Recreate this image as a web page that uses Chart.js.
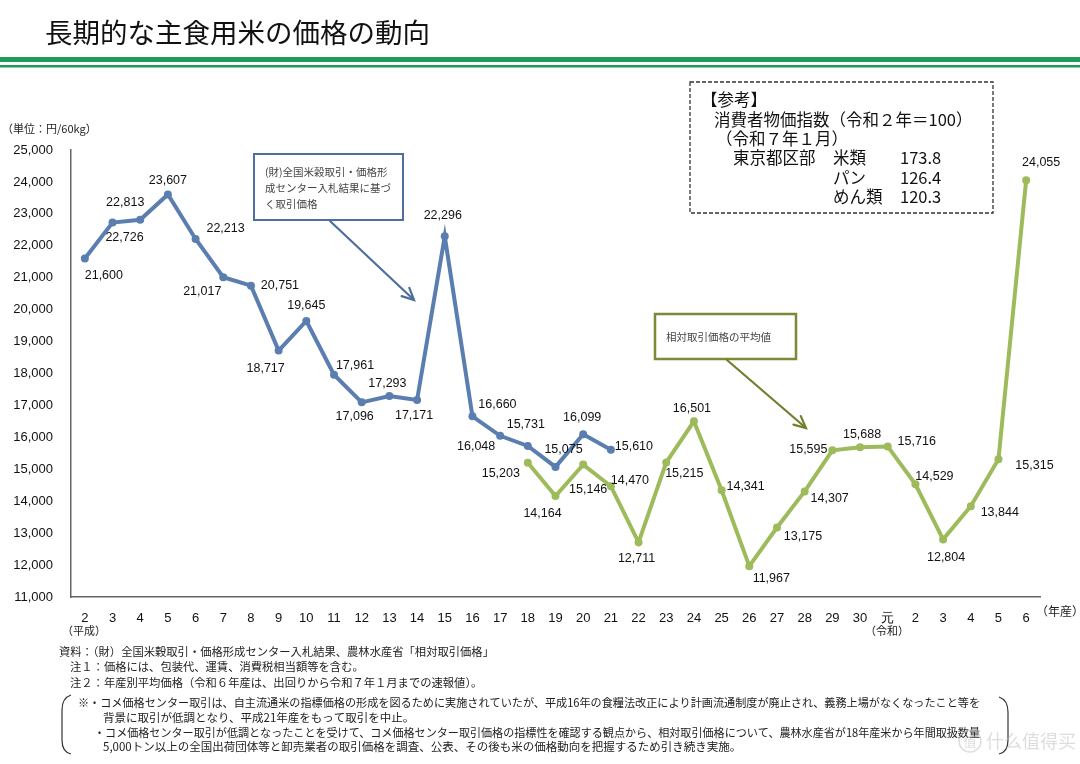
<!DOCTYPE html>
<html><head><meta charset="utf-8">
<script src="https://cdn.jsdelivr.net/npm/chart.js@4.4.1/dist/chart.umd.min.js"></script>
<style>html,body{margin:0;padding:0;background:#fff;}#wrap{width:1080px;height:764px;position:relative;}</style>
</head><body><div id="wrap"><canvas id="c" width="1080" height="764"></canvas></div>
<script>
// ---- data ----
const categories = ['2','3','4','5','6','7','8','9','10','11','12','13','14','15','16','17','18','19','20','21','22','23','24','25','26','27','28','29','30','元','2','3','4','5','6'];
// センター入札価格 (平成2〜21年産)
const centerPrices = [21600,22726,22813,23607,22213,21017,20751,18717,19645,17961,17096,17293,17171,22296,16660,16048,15731,15075,16099,15610];
// 相対取引価格の平均値 (平成18年産〜令和6年産)
const relativePrices = [15203,14164,15146,14470,12711,15215,16501,14341,11967,13175,14307,15595,15688,15716,14529,12804,13844,15315,24055];
const yMin = 11000, yMax = 25000, yStep = 1000;

const relativeStartIndex = 16; // 平成18年産
const blueData = categories.map((c,i)=> i < centerPrices.length ? centerPrices[i] : null);
const greenData = categories.map((c,i)=> i >= relativeStartIndex ? relativePrices[i-relativeStartIndex] : null);

// label placement (offset from point, px)
const blueLabelOffsets = [[19,17],[12,15],[-15,-17],[0,-14],[30,-10],[-21,14],[29,0],[-13,18],[0,-15],[21,-9],[-7,14],[-2,-13],[-3,16],[-2,-21],[25,-12],[-24,11],[-2,-21],[8,-17],[-1,-17],[23,-3]];
const greenLabelOffsets = [[-27,11],[-13,18],[5,25],[19,-6],[-2,16],[18,11],[-2,-13],[24,-4],[22,12],[26,9],[25,7],[-24,-1],[2,-13],[29,-5],[19,-8],[3,18],[29,6],[36,6],[15,-18]];

const JP = '"Noto Sans CJK JP", sans-serif';
const NUM = '"Liberation Sans", Arial, sans-serif';
const BLUE = '#5a7eaf';
const GREEN = '#9dbb5b';

function fmt(v){ return v.toLocaleString('en-US'); }

function arrow(ctx,x1,y1,x2,y2,color,w){
  ctx.save();
  ctx.strokeStyle=color; ctx.lineWidth=w; ctx.lineCap='round';
  ctx.beginPath(); ctx.moveTo(x1,y1); ctx.lineTo(x2,y2); ctx.stroke();
  const a=Math.atan2(y2-y1,x2-x1), L=13, s=0.45;
  ctx.beginPath();
  ctx.moveTo(x2-L*Math.cos(a-s), y2-L*Math.sin(a-s));
  ctx.lineTo(x2,y2);
  ctx.lineTo(x2-L*Math.cos(a+s), y2-L*Math.sin(a+s));
  ctx.stroke();
  ctx.restore();
}

const decor = {
  id:'decor',
  beforeDraw(chart){
    const ctx=chart.ctx;
    ctx.save(); ctx.fillStyle='#fff'; ctx.fillRect(0,0,chart.width,chart.height); ctx.restore();
  },
  afterDraw(chart){
    const ctx=chart.ctx;
    ctx.save();
    // title
    ctx.fillStyle='#111'; ctx.textBaseline='middle'; ctx.textAlign='left';
    ctx.font='400 27.5px '+JP;
    ctx.fillText('長期的な主食用米の価格の動向',45,33);
    // green rules
    ctx.fillStyle='#1e9a5c';
    ctx.fillRect(0,57,1080,5);
    ctx.fillRect(0,65,1080,2.5);
    // unit
    ctx.fillStyle='#222'; ctx.font='11px '+JP;
    ctx.fillText('（単位：円/60kg）',2,129);
    // era labels
    ctx.textAlign='center';
    ctx.fillText('（平成）',84,631);
    ctx.fillText('（令和）',887,631);
    ctx.textAlign='left';
    ctx.font='12px '+JP;
    ctx.fillText('（年産）',1036,611);

    // data labels
    ctx.font='12.5px '+NUM; ctx.fillStyle='#111'; ctx.textAlign='center'; ctx.textBaseline='middle';
    const mb=chart.getDatasetMeta(0), mg=chart.getDatasetMeta(1);
    centerPrices.forEach((v,i)=>{const p=mb.data[i]; const o=blueLabelOffsets[i]; ctx.fillText(fmt(v),p.x+o[0],p.y+o[1]);});
    relativePrices.forEach((v,i)=>{const p=mg.data[i+relativeStartIndex]; const o=greenLabelOffsets[i]; ctx.fillText(fmt(v),p.x+o[0],p.y+o[1]);});

    // callout 1
    ctx.fillStyle='#fff'; ctx.strokeStyle='#4e6e9e'; ctx.lineWidth=2;
    ctx.fillRect(254,154,149,66); ctx.strokeRect(254,154,149,66);
    arrow(ctx,330,221,414,300,'#4e6e9e',2.2);
    ctx.fillStyle='#444'; ctx.textAlign='left'; ctx.font='10.5px '+JP;
    ctx.fillText('(財)全国米穀取引・価格形',265,172);
    ctx.fillText('成センター入札結果に基づ',265,188);
    ctx.fillText('く取引価格',265,204);

    // callout 2
    ctx.fillStyle='#fff'; ctx.strokeStyle='#7a8a36'; ctx.lineWidth=2.5;
    ctx.fillRect(655,314,141,45); ctx.strokeRect(655,314,141,45);
    arrow(ctx,727,360,806,428,'#6f7f2c',2.2);
    ctx.fillStyle='#444'; ctx.font='10.5px '+JP;
    ctx.fillText('相対取引価格の平均値',666,337);

    // reference box
    ctx.strokeStyle='#333'; ctx.lineWidth=1.3; ctx.setLineDash([4,2]);
    ctx.strokeRect(690,82,303,131); ctx.setLineDash([]);
    ctx.fillStyle='#111'; ctx.font='16.5px '+JP;
    ctx.fillText('【参考】',701,100);
    ctx.fillText('消費者物価指数（令和２年＝100）',714,120);
    ctx.fillText('（令和７年１月）',716,139);
    ctx.fillText('東京都区部',733,158);
    ctx.fillText('米類',833,158); ctx.fillText('173.8',900,158);
    ctx.fillText('パン',833,178); ctx.fillText('126.4',900,178);
    ctx.fillText('めん類',833,197); ctx.fillText('120.3',900,197);

    // footnotes
    ctx.fillStyle='#222'; ctx.font='11.3px '+JP;
    ctx.fillText('資料：（財）全国米穀取引・価格形成センター入札結果、農林水産省「相対取引価格」',59,652);
    ctx.fillText('注１：価格には、包装代、運賃、消費税相当額等を含む。',70,667);
    ctx.fillText('注２：年産別平均価格（令和６年産は、出回りから令和７年１月までの速報値）。',70,683);
    ctx.font='11.5px '+JP;
    ctx.fillText('※・コメ価格センター取引は、自主流通米の指標価格の形成を図るために実施されていたが、平成16年の食糧法改正により計画流通制度が廃止され、義務上場がなくなったこと等を',78,703,902);
    ctx.fillText('背景に取引が低調となり、平成21年産をもって取引を中止。',103,718);
    ctx.fillText('・コメ価格センター取引が低調となったことを受けて、コメ価格センター取引価格の指標性を確認する観点から、相対取引価格について、農林水産省が18年産米から年間取扱数量',94,733,886);
    ctx.fillText('5,000トン以上の全国出荷団体等と卸売業者の取引価格を調査、公表、その後も米の価格動向を把握するため引き続き実施。',103,747);
    // brackets
    ctx.strokeStyle='#333'; ctx.lineWidth=1.2;
    ctx.beginPath(); ctx.moveTo(71,695); ctx.quadraticCurveTo(62,698,62,710); ctx.lineTo(62,740); ctx.quadraticCurveTo(62,752,71,754); ctx.stroke();
    ctx.beginPath(); ctx.moveTo(999,697); ctx.quadraticCurveTo(1008,700,1008,712); ctx.lineTo(1008,740); ctx.quadraticCurveTo(1008,752,999,754); ctx.stroke();

    // watermark
    ctx.globalAlpha=0.5;
    ctx.strokeStyle='#bbb'; ctx.fillStyle='#bbb'; ctx.lineWidth=1.5;
    ctx.beginPath(); ctx.arc(970,741,11,0,Math.PI*2); ctx.stroke();
    ctx.font='13px "Noto Sans CJK SC", sans-serif'; ctx.textAlign='center';
    ctx.fillText('值',970,741);
    ctx.textAlign='left'; ctx.font='18px "Noto Sans CJK SC", sans-serif';
    ctx.fillText('什么值得买',986,741);
    ctx.restore();
  }
};

new Chart(document.getElementById('c'),{
  type:'line',
  data:{labels:categories, datasets:[
    {data:blueData, borderColor:BLUE, backgroundColor:BLUE, borderWidth:4, pointRadius:4, pointBackgroundColor:BLUE, pointBorderWidth:0, tension:0, spanGaps:false},
    {data:greenData, borderColor:GREEN, backgroundColor:GREEN, borderWidth:4, pointRadius:4, pointBackgroundColor:GREEN, pointBorderWidth:0, tension:0, spanGaps:false}
  ]},
  options:{
    responsive:false, animation:false, devicePixelRatio:1,
    layout:{padding:{left:0,right:40,top:150,bottom:137}},
    plugins:{legend:{display:false},tooltip:{enabled:false}},
    scales:{
      x:{type:'category', offset:true, grid:{display:false}, border:{display:true,color:'#666',width:1.5},
         ticks:{autoSkip:false,maxRotation:0,padding:6,color:'#111',font:{family:NUM,size:13}},
         afterFit(s){s.height=30;}},
      y:{min:yMin,max:yMax, grid:{display:false}, border:{display:true,color:'#666',width:1.5},
         ticks:{stepSize:yStep,padding:10,color:'#111',font:{family:NUM,size:13},callback:v=>fmt(v)},
         afterFit(s){s.width=71;}}
    }
  },
  plugins:[decor]
});
</script></body></html>
